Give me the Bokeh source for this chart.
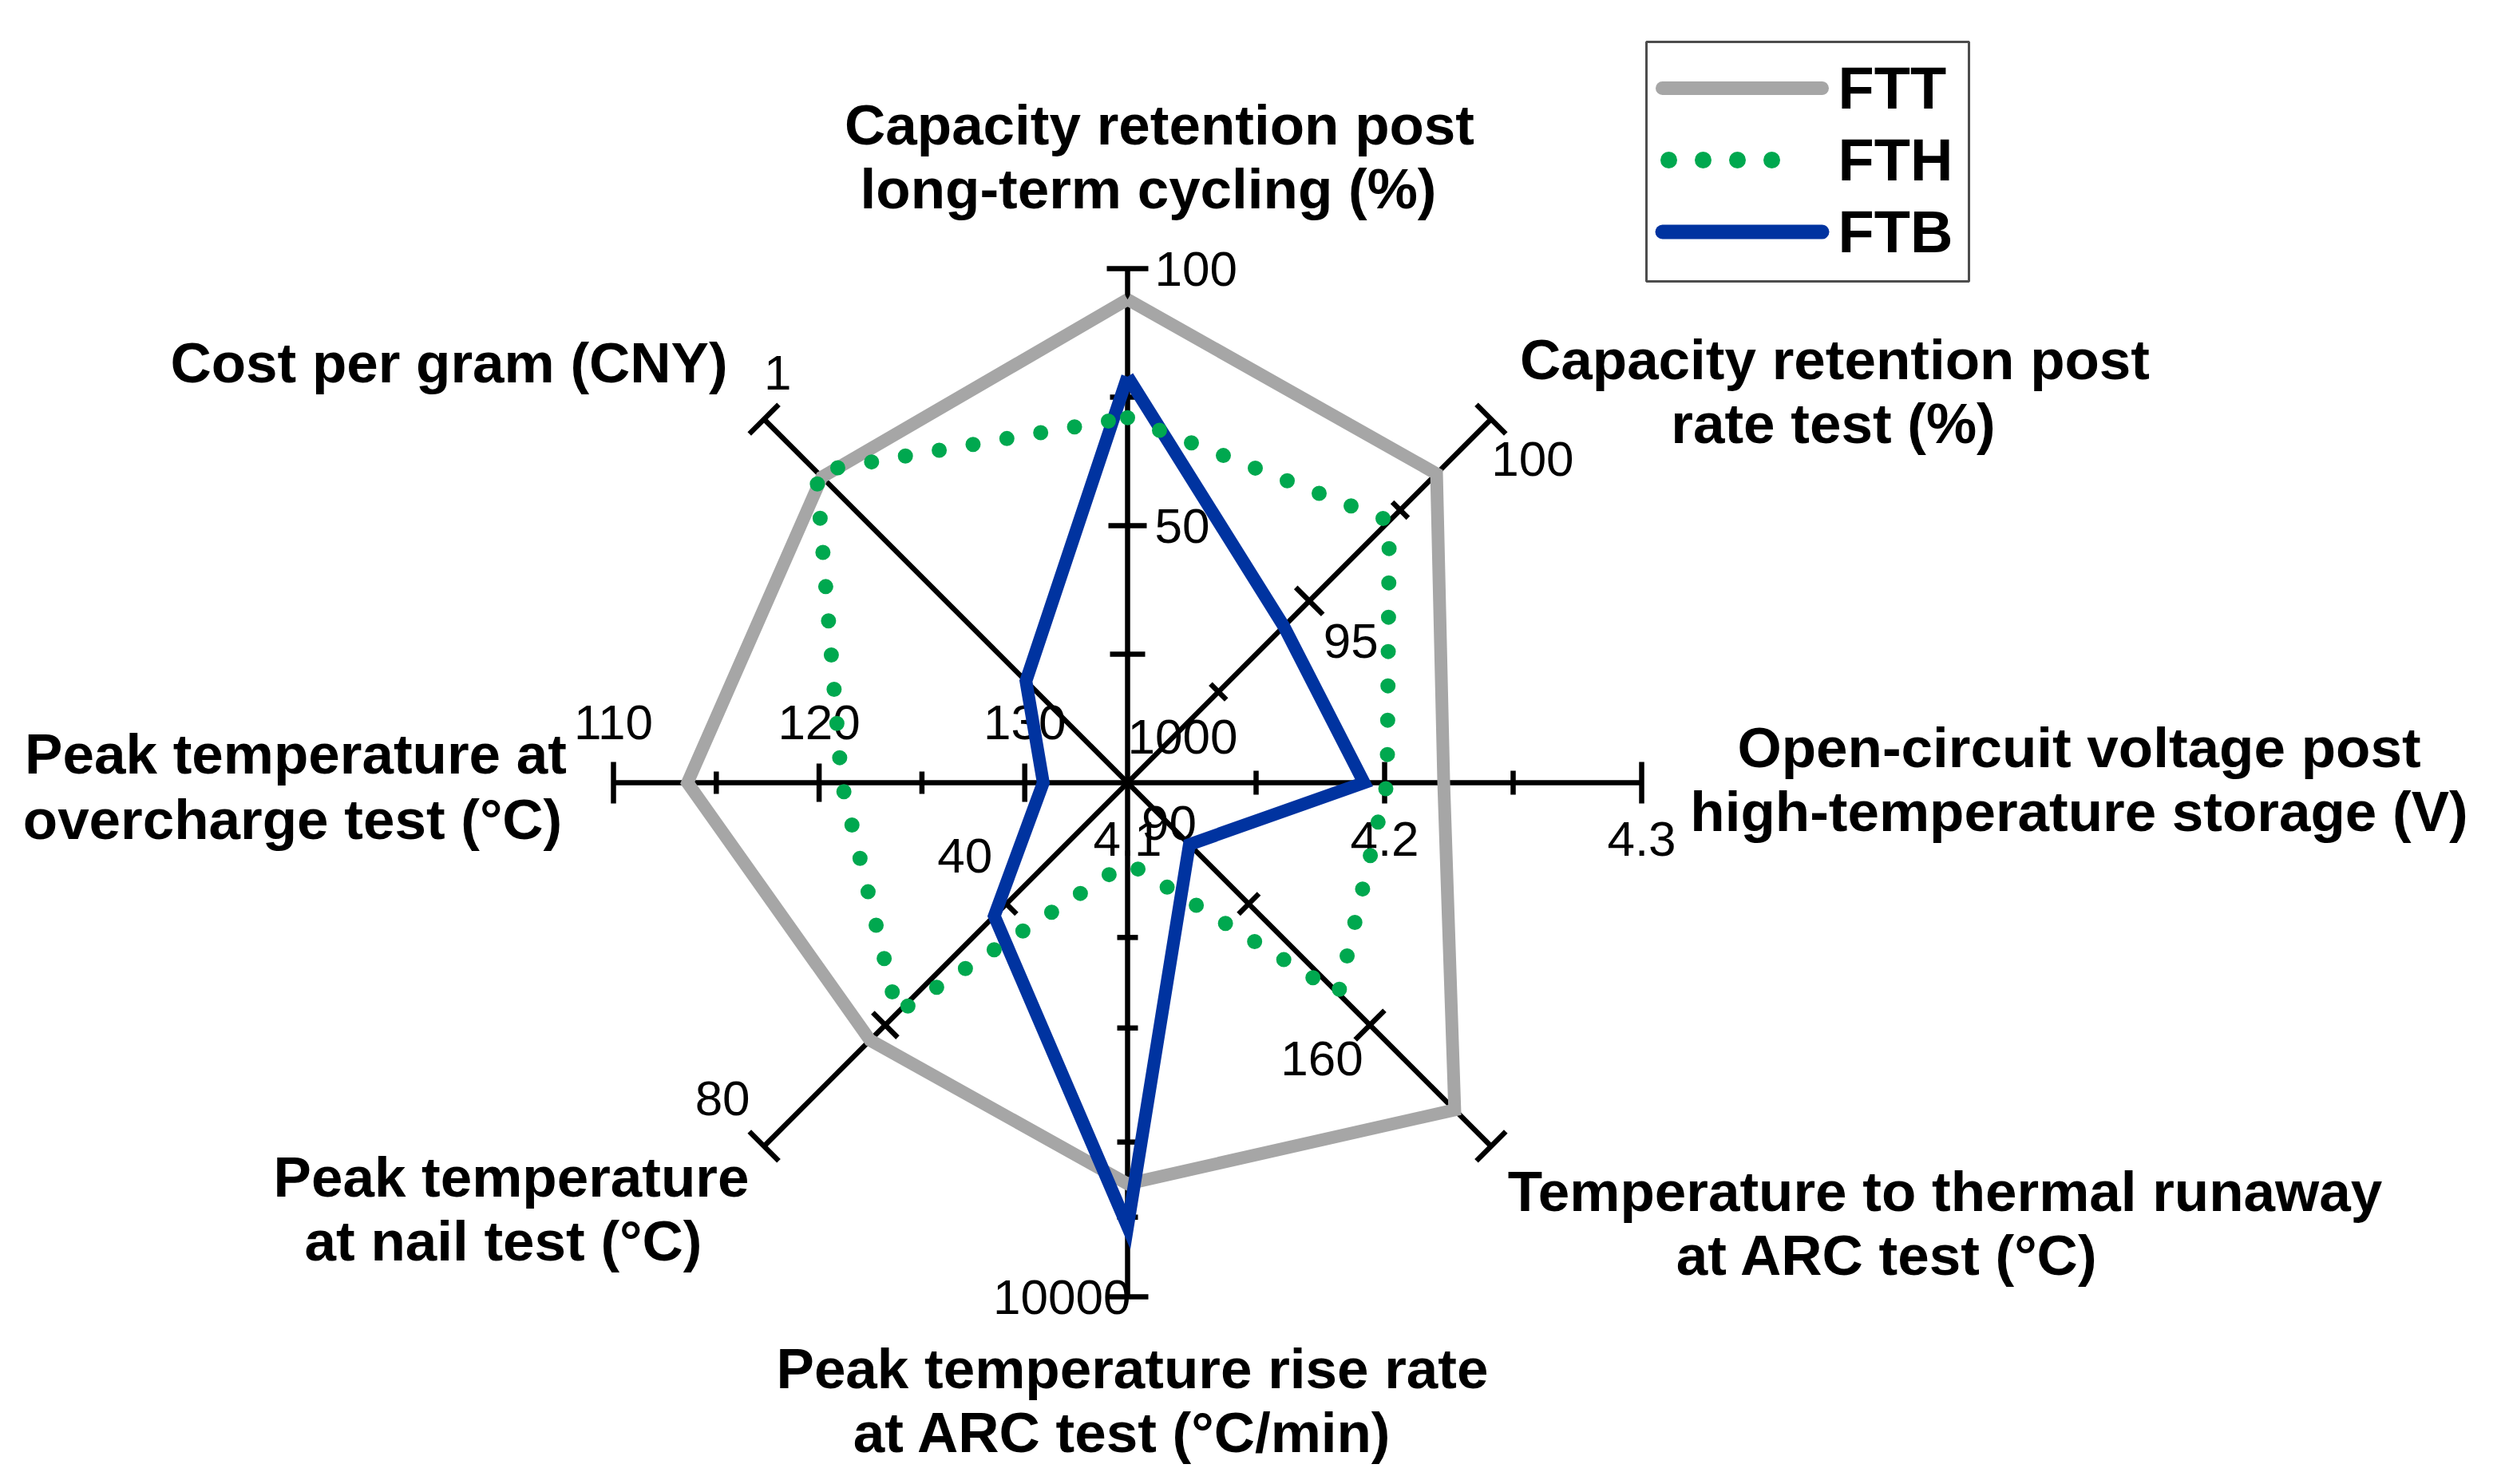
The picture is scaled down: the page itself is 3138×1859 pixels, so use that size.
import math
from bokeh.plotting import figure
from bokeh.models import Range1d
from bokeh.core.properties import value
from bokeh.embed import file_html
from bokeh.resources import INLINE

# ---------------- data ----------------
axis_titles = [
    ["Capacity retention post", "long-term cycling (%)"],
    ["Capacity retention post", "rate test (%)"],
    ["Open-circuit voltage post", "high-temperature storage (V)"],
    ["Temperature to thermal runaway", "at ARC test (°C)"],
    ["Peak temperature rise rate", "at ARC test (°C/min)"],
    ["Peak temperature", "at nail test (°C)"],
    ["Peak temperature at", "overcharge test (°C)"],
    ["Cost per gram (CNY)"],
]
axis_center_value = [0, 90, 4.1, 120, 1000, 20, 135, 1000]
axis_end_value = [100, 100, 4.3, 180, 10000, 80, 110, 1]
axis_is_log = [False, False, False, False, True, False, False, True]

tick_values = [
    [25, 50, 75],
    [92.5, 95, 97.5],
    [4.15, 4.2, 4.25],
    [140, 160],
    [2000, 3000, 5000, 7000],
    [40, 60],
    [115, 120, 125, 130],
    [],
]
tick_labels = [
    ["100", "50"],
    ["100", "95", "90"],
    ["4.3", "4.2", "4.1"],
    ["160"],
    ["10000"],
    ["40", "80"],
    ["110", "120", "130"],
    ["1", "1000"],
]
tick_label_values = [
    [100, 50],
    [100, 95, 90],
    [4.3, 4.2, 4.1],
    [160],
    [10000],
    [40, 80],
    [110, 120, 130],
    [1, 1000],
]

series_names = ["FTT", "FTH", "FTB"]
FTT = [94, 98.5, 4.223, 174, 6030, 62.5, 113.6, 3.0]
FTH = [71, 97.2, 4.201, 154.8, 1430, 58, 121.1, 2.7]
FTB = [79, 94.3, 4.192, 130.2, 7300, 42, 130.9, 145]

# ---------------- layout / style ----------------
W, H = 3120, 1840
CX, CY, R = 1412, 980, 644
angles = [90, 45, 0, -45, -90, -135, 180, 135]

tick_half = [
    [(22, 22), (24, 24), (22, 22)],
    [(14, 14), (24, 24), (14, 14)],
    [(15, 15), (26, 26), (15, 15)],
    [(18, 18), (26, 26)],
    [(13, 13), (13, 13), (13, 13), (13, 13)],
    [(18, 3), (22, 22)],
    [(14, 14), (24, 24), (14, 14), (24, 24)],
    [],
]
label_offset = [(34, 0), (52, 50), (0, 70), (-60, 42), (4, 0), (-52, -60), (0, -76), (0, -58)]
label_align = ["left", "center", "center", "center", "right", "center", "center", "left"]

title_pos = [
    [(1452, 156), (1438, 236)],
    [(2298, 450), (2296, 530)],
    [(2604, 936), (2604, 1016)],
    [(2436, 1492), (2364, 1572)],
    [(1418, 1714), (1406, 1794)],
    [(640, 1474), (630, 1554)],
    [(370, 944), (366, 1026)],
    [(562, 454)],
]

GRAY = "#a6a6a6"
GREEN = "#00a84f"
BLUE = "#0033a0"
TITLE_FONT = value("Liberation Sans")
TICK_FONT = value("Liberation Sans")


def frac(i, v):
    g = math.log10 if axis_is_log[i] else (lambda t: t)
    return (g(v) - g(axis_center_value[i])) / (g(axis_end_value[i]) - g(axis_center_value[i]))


def pos(i, f):
    a = math.radians(angles[i])
    return CX + R * f * math.cos(a), CY - R * f * math.sin(a)


p = figure(width=W, height=H, output_backend="svg", toolbar_location=None,
           x_range=Range1d(0, W), y_range=Range1d(H, 0),
           x_axis_location=None, y_axis_location=None, min_border=0)
p.grid.visible = False
p.outline_line_color = None
p.background_fill_color = "white"
p.border_fill_color = "white"

# axes + ticks
sx0, sy0, sx1, sy1 = [], [], [], []
for i in range(8):
    ex, ey = pos(i, 1.0)
    sx0.append(CX); sy0.append(CY); sx1.append(ex); sy1.append(ey)
    a = math.radians(angles[i])
    nx, ny = math.sin(a), math.cos(a)
    marks = [(frac(i, v), h) for v, h in zip(tick_values[i], tick_half[i])] + [(1.0, (26, 26))]
    for f, (hn, hp) in marks:
        px, py = pos(i, f)
        sx0.append(px - hn * nx); sy0.append(py - hn * ny)
        sx1.append(px + hp * nx); sy1.append(py + hp * ny)
p.segment(sx0, sy0, sx1, sy1, line_color="black", line_width=6.5)

# tick labels
for i in range(8):
    lx, ly, lt = [], [], []
    for v, t in zip(tick_label_values[i], tick_labels[i]):
        px, py = pos(i, frac(i, v))
        lx.append(px + label_offset[i][0]); ly.append(py + label_offset[i][1]); lt.append(t)
    if lt:
        p.text(lx, ly, text=lt, text_font=TICK_FONT, text_font_size="62px",
               text_align=label_align[i], text_baseline="middle", text_color="black")

# axis titles
tx, ty, tt = [], [], []
for lines, poss in zip(axis_titles, title_pos):
    for line, (x, y) in zip(lines, poss):
        tx.append(x); ty.append(y); tt.append(line)
p.text(tx, ty, text=tt, text_font=TITLE_FONT, text_font_style="bold", text_font_size="71px",
       text_align="center", text_baseline="middle", text_color="black")

# series
def poly(vals):
    pts = [pos(i, frac(i, v)) for i, v in enumerate(vals)]
    pts.append(pts[0])
    return [q[0] for q in pts], [q[1] for q in pts]

gx, gy = poly(FTT)
p.line(gx, gy, line_color=GRAY, line_width=16, line_join="miter")
bx, by = poly(FTB)
p.line(bx, by, line_color=BLUE, line_width=16, line_join="miter")
hx, hy = poly(FTH)
p.line(hx, hy, line_color=GREEN, line_width=19, line_dash="0 43", line_cap="round")

# legend
p.quad(left=[2062], right=[2466], top=[52], bottom=[352], fill_color="white",
       line_color="#4d4d4d", line_width=3)
leg_y = [110, 200, 290]
p.line([2082, 2282], [leg_y[0]] * 2, line_color=GRAY, line_width=17, line_cap="round")
p.line([2090, 2262], [leg_y[1]] * 2, line_color=GREEN, line_width=21, line_dash="0 43", line_cap="round")
p.line([2082, 2282], [leg_y[2]] * 2, line_color=BLUE, line_width=18, line_cap="round")
p.text([2302] * 3, leg_y, text=series_names, text_font=TITLE_FONT, text_font_style="bold",
       text_font_size="74px", text_align="left", text_baseline="middle", text_color="black")

open("out.html", "w").write(file_html(p, INLINE))
